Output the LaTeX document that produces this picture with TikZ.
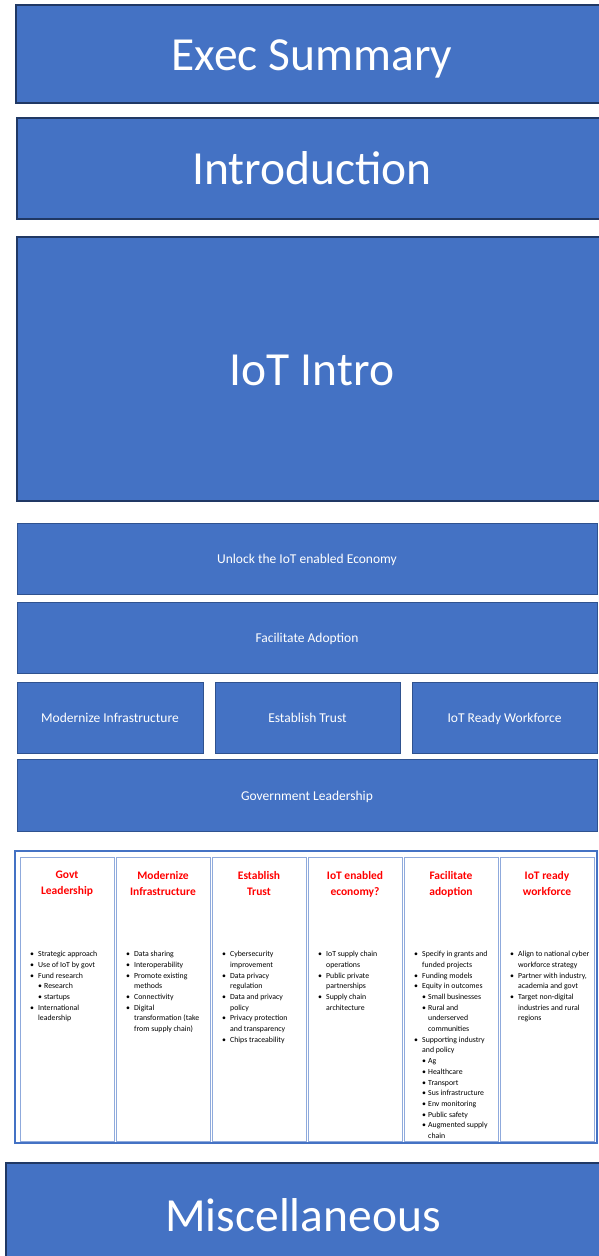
\documentclass[tikz,border=0pt]{standalone}
\usepackage{fontspec}
\setmainfont{Carlito}
\usetikzlibrary{positioning}

\definecolor{boxblue}{HTML}{4472C4}
\definecolor{navyline}{HTML}{203864}
\definecolor{edgeblue}{HTML}{2F528F}
\definecolor{paleblue}{HTML}{8FAADC}

% bullet lines: first line of an item, its follow-on lines, and the same one level down
\newcommand{\bulA}[1]{\makebox[9pt][l]{\hspace{1pt}\textbullet}#1}
\newcommand{\bulB}[1]{\hspace*{9pt}#1}
\newcommand{\subA}[1]{\hspace*{9pt}\makebox[6pt][l]{\textbullet}#1}
\newcommand{\subB}[1]{\hspace*{15pt}#1}

\begin{document}
\begin{tikzpicture}[x=1pt,y=-1pt,
    big node/.style={rectangle,draw=navyline,line width=2pt,fill=boxblue,text=white,outer sep=0,inner sep=0,text height=32pt,text depth=0pt,font=\fontsize{47.5}{56}\selectfont},
    mid node/.style={rectangle,draw=edgeblue,line width=0.8pt,fill=boxblue,text=white,outer sep=0,inner sep=0,minimum height=71pt,text height=10pt,text depth=0pt,font=\fontsize{13.5}{16}\selectfont},
    col node/.style={rectangle,draw=paleblue,line width=1pt,outer sep=0,inner sep=0,minimum width=94pt,minimum height=284pt},
    head node/.style={text=red,align=center,inner sep=0,font=\bfseries\fontsize{11.5}{16}\selectfont},
    list node/.style={align=left,inner sep=0,font=\fontsize{7.8}{10.7}\selectfont}]

                \useasboundingbox (0,0) rectangle (598,1256);

                \node[big node, minimum width=592pt, minimum height=98pt]  (exec) at (312,54) {Exec Summary};
                \node[big node, minimum width=590pt, minimum height=101pt] (intro) [below=15pt of exec] {Introduction};
                \node[big node, minimum width=590pt, minimum height=264pt] (iot) [below=18pt of intro] {IoT Intro};

                \node[mid node, minimum width=580pt] (unlock) at (307,558.5) {Unlock the IoT enabled Economy};
                \node[mid node, minimum width=580pt] (facil) [below=8pt of unlock] {Facilitate Adoption};
                \node[mid node, minimum width=186pt] (modern) [below right=9pt and 0pt of facil.south west] {Modernize Infrastructure};
                \node[mid node, minimum width=185pt] (trust) [right=12pt of modern] {Establish Trust};
                \node[mid node, minimum width=185pt] (ready) [right=12pt of trust] {IoT Ready Workforce};
                \node[mid node, minimum width=580pt, minimum height=72pt] (gov) [below right=6pt and 0pt of modern.south west] {Government Leadership};

                \node[rectangle, draw=boxblue, line width=2pt, outer sep=0, inner sep=0, minimum width=582pt, minimum height=292pt] (tbl) at (306,997) {};

                \node[col node] (c1) [below right=6pt and 5pt of tbl.north west] {};
                \node[col node] (c2) [right=2pt of c1] {};
                \node[col node] (c3) [right=2pt of c2] {};
                \node[col node] (c4) [right=2pt of c3] {};
                \node[col node] (c5) [right=2pt of c4] {};
                \node[col node] (c6) [right=2pt of c5] {};

                \node[head node] (h1) [below=14pt of c1.north] {Govt\\Leadership};
                \node[head node] (h2) [below=14pt of c2.north] {Modernize\\Infrastructure};
                \node[head node] (h3) [below=14pt of c3.north] {Establish\\Trust};
                \node[head node] (h4) [below=14pt of c4.north] {IoT enabled\\economy?};
                \node[head node] (h5) [below=14pt of c5.north] {Facilitate\\adoption};
                \node[head node] (h6) [below=14pt of c6.north] {IoT ready\\workforce};

                \node[list node] (l1) [below right=94pt and 9pt of c1.north west] {%
                    \bulA{Strategic approach}\\
                    \bulA{Use of IoT by govt}\\
                    \bulA{Fund research}\\
                    \subA{Research}\\
                    \subA{startups}\\
                    \bulA{International}\\
                    \bulB{leadership}};
                \node[list node] (l2) [below right=94pt and 9pt of c2.north west] {%
                    \bulA{Data sharing}\\
                    \bulA{Interoperability}\\
                    \bulA{Promote existing}\\
                    \bulB{methods}\\
                    \bulA{Connectivity}\\
                    \bulA{Digital}\\
                    \bulB{transformation (take}\\
                    \bulB{from supply chain)}};
                \node[list node] (l3) [below right=94pt and 9pt of c3.north west] {%
                    \bulA{Cybersecurity}\\
                    \bulB{improvement}\\
                    \bulA{Data privacy}\\
                    \bulB{regulation}\\
                    \bulA{Data and privacy}\\
                    \bulB{policy}\\
                    \bulA{Privacy protection}\\
                    \bulB{and transparency}\\
                    \bulA{Chips traceability}};
                \node[list node] (l4) [below right=94pt and 9pt of c4.north west] {%
                    \bulA{IoT supply chain}\\
                    \bulB{operations}\\
                    \bulA{Public private}\\
                    \bulB{partnerships}\\
                    \bulA{Supply chain}\\
                    \bulB{architecture}};
                \node[list node] (l5) [below right=94pt and 9pt of c5.north west] {%
                    \bulA{Specify in grants and}\\
                    \bulB{funded projects}\\
                    \bulA{Funding models}\\
                    \bulA{Equity in outcomes}\\
                    \subA{Small businesses}\\
                    \subA{Rural and}\\
                    \subB{underserved}\\
                    \subB{communities}\\
                    \bulA{Supporting industry}\\
                    \bulB{and policy}\\
                    \subA{Ag}\\
                    \subA{Healthcare}\\
                    \subA{Transport}\\
                    \subA{Sus infrastructure}\\
                    \subA{Env monitoring}\\
                    \subA{Public safety}\\
                    \subA{Augmented supply}\\
                    \subB{chain}};
                \node[list node] (l6) [below right=94pt and 9pt of c6.north west] {%
                    \bulA{Align to national cyber}\\
                    \bulB{workforce strategy}\\
                    \bulA{Partner with industry,}\\
                    \bulB{academia and govt}\\
                    \bulA{Target non-digital}\\
                    \bulB{industries and rural}\\
                    \bulB{regions}};

                \node[big node, minimum width=594pt, minimum height=104pt] (misc) at (303,1215) {Miscellaneous};
            \end{tikzpicture}
\end{document}
